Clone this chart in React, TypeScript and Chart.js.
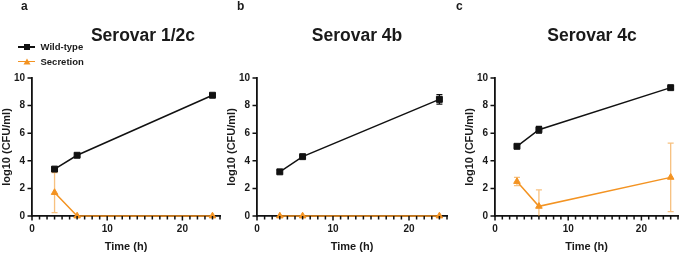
import React, { useEffect, useRef } from 'react';
import { Chart, registerables } from 'chart.js';

Chart.register(...registerables);

// ---------- data ----------
const TIME_H = [3, 6, 24];
const X_LABELED_TICKS = [0, 10, 20];
const X_MIN = 0;
const X_MAX = 25;
const Y_MIN = 0;
const Y_MAX = 10;
const Y_STEP = 2;
const SERIES_NAMES = ['Wild-type', 'Secretion'];
const PANEL_LETTERS = ['a', 'b', 'c'];
const PANEL_TITLES = ['Serovar 1/2c', 'Serovar 4b', 'Serovar 4c'];
const X_TITLE = 'Time (h)';
const Y_TITLE = 'log10 (CFU/ml)';

const WT_12C = [3.4, 4.4, 8.75];
const WT_12C_SD = [0.1, 0.1, 0.1];
const SEC_12C = [1.7, 0, 0];
const SEC_12C_SD = [1.45, 0, 0];

const WT_4B = [3.2, 4.3, 8.45];
const WT_4B_SD = [0.1, 0.1, 0.35];
const SEC_4B = [0, 0, 0];
const SEC_4B_SD = [0, 0, 0];

const WT_4C = [5.05, 6.25, 9.3];
const WT_4C_SD = [0.1, 0.25, 0.1];
const SEC_4C = [2.5, 0.7, 2.8];
const SEC_4C_SD = [0.3, 1.2, 2.48];

// ---------- styles ----------
const FONT = '"Liberation Sans", Arial, Helvetica, sans-serif';
const TEXT = '#1a1a1a';
const BLACK = '#111111';
const ORANGE = '#F39322';
const ORANGE_ERR = 'rgba(243,160,60,0.65)';

const PANELS = [
  { wt: WT_12C, wtSd: WT_12C_SD, sec: SEC_12C, secSd: SEC_12C_SD,
    canvasLeft: 0, width: 230, chartLeft: 32, chartRight: 220,
    titleCenter: 143, letterLeft: 21 },
  { wt: WT_4B, wtSd: WT_4B_SD, sec: SEC_4B, secSd: SEC_4B_SD,
    canvasLeft: 220, width: 240, chartLeft: 37, chartRight: 227,
    titleCenter: 357, letterLeft: 237 },
  { wt: WT_4C, wtSd: WT_4C_SD, sec: SEC_4C, secSd: SEC_4C_SD,
    canvasLeft: 450, width: 235, chartLeft: 45, chartRight: 232,
    titleCenter: 592, letterLeft: 456 },
];

const HEIGHT = 254;
const CHART_TOP = 78;
const X_AXIS_H = 38;
const Y_TITLE_LH = 13.2;
const TICK_MAJOR = 4.5;
const TICK_MINOR = 3.5;

const errorBarPlugin = {
  id: 'errorBars',
  beforeDatasetsDraw(chart: any) {
    const { ctx, chartArea, scales } = chart;
    const xs = scales.x;
    const ys = scales.y;
    ctx.save();
    ctx.beginPath();
    ctx.rect(chartArea.left, chartArea.top - 10, chartArea.right - chartArea.left, chartArea.bottom - chartArea.top + 10);
    ctx.clip();
    chart.data.datasets.forEach((ds: any) => {
      const errs = ds.errors;
      if (!errs) return;
      ds.data.forEach((p: any, i: number) => {
        const e = errs[i];
        if (!e) return;
        const px = xs.getPixelForValue(p.x);
        const hi = ys.getPixelForValue(p.y + e);
        const lo = ys.getPixelForValue(p.y - e);
        ctx.strokeStyle = ds.errorColor;
        ctx.lineWidth = 1.3;
        ctx.beginPath();
        ctx.moveTo(px, hi);
        ctx.lineTo(px, lo);
        ctx.moveTo(px - 3, hi);
        ctx.lineTo(px + 3, hi);
        ctx.moveTo(px - 3, lo);
        ctx.lineTo(px + 3, lo);
        ctx.stroke();
      });
    });
    ctx.restore();
  },
};

const tickMarkPlugin = {
  id: 'tickMarks',
  afterDraw(chart: any) {
    const { ctx, chartArea, scales } = chart;
    const xs = scales.x;
    const ys = scales.y;
    ctx.save();
    ctx.strokeStyle = BLACK;
    ctx.lineWidth = 1.5;
    ctx.beginPath();
    xs.ticks.forEach((t: any) => {
      const px = xs.getPixelForValue(t.value);
      const len = X_LABELED_TICKS.includes(t.value) ? TICK_MAJOR : TICK_MINOR;
      ctx.moveTo(px, chartArea.bottom);
      ctx.lineTo(px, chartArea.bottom + len);
    });
    ys.ticks.forEach((t: any) => {
      const py = ys.getPixelForValue(t.value);
      ctx.moveTo(chartArea.left, py);
      ctx.lineTo(chartArea.left - TICK_MAJOR, py);
    });
    ctx.stroke();
    ctx.restore();
  },
};

function ChartPanel({ cfg }: { cfg: any }) {
  const ref = useRef<HTMLCanvasElement>(null);
  useEffect(() => {
    const chart = new Chart(ref.current as HTMLCanvasElement, {
      type: 'line',
      data: {
        datasets: [
          {
            label: SERIES_NAMES[0],
            data: TIME_H.map((t, i) => ({ x: t, y: cfg.wt[i] })),
            errors: cfg.wtSd,
            errorColor: BLACK,
            borderColor: BLACK,
            backgroundColor: BLACK,
            pointBackgroundColor: BLACK,
            pointBorderColor: BLACK,
            pointStyle: 'rect',
            pointRadius: 4.2,
            pointBorderWidth: 1,
            borderWidth: 1.5,
            clip: false,
          } as any,
          {
            label: SERIES_NAMES[1],
            data: TIME_H.map((t, i) => ({ x: t, y: cfg.sec[i] })),
            errors: cfg.secSd,
            errorColor: ORANGE_ERR,
            borderColor: ORANGE,
            backgroundColor: ORANGE,
            pointBackgroundColor: ORANGE,
            pointBorderColor: ORANGE,
            pointStyle: 'triangle',
            pointRadius: 3.8,
            pointBorderWidth: 1,
            borderWidth: 1.5,
            clip: false,
          } as any,
        ],
      },
      options: {
        animation: false,
        responsive: false,
        devicePixelRatio: 1,
        layout: {
          padding: { left: 0, right: cfg.width - cfg.chartRight, top: CHART_TOP, bottom: 0 },
        },
        plugins: {
          legend: { display: false },
          title: { display: false },
          tooltip: { enabled: false },
        },
        scales: {
          x: {
            type: 'linear',
            min: X_MIN,
            max: X_MAX,
            afterFit: (s: any) => { s.height = X_AXIS_H; },
            border: { display: true, color: BLACK, width: 1.8 },
            grid: { display: false, drawOnChartArea: false, drawTicks: false },
            ticks: {
              stepSize: 1,
              autoSkip: false,
              maxRotation: 0,
              padding: 7,
              color: TEXT,
              font: { family: FONT, size: 10, weight: 'bold' },
              callback: (v: any) => (X_LABELED_TICKS.includes(Number(v)) ? String(v) : ''),
            },
            title: {
              display: true,
              text: X_TITLE,
              color: TEXT,
              font: { family: FONT, size: 11, weight: 'bold' },
              padding: { top: 0, bottom: 0 },
            },
          },
          y: {
            type: 'linear',
            min: Y_MIN,
            max: Y_MAX,
            afterFit: (s: any) => { s.width = cfg.chartLeft; },
            border: { display: true, color: BLACK, width: 1.8 },
            grid: { display: false, drawOnChartArea: false, drawTicks: false },
            ticks: {
              stepSize: Y_STEP,
              padding: 7,
              color: TEXT,
              font: { family: FONT, size: 10, weight: 'bold' },
            },
            title: {
              display: true,
              text: Y_TITLE,
              color: TEXT,
              font: { family: FONT, size: 11, weight: 'bold' },
              padding: { top: Math.max(0, cfg.chartLeft - 25 - Y_TITLE_LH / 2), bottom: 0 },
            },
          },
        },
      } as any,
      plugins: [tickMarkPlugin, errorBarPlugin],
    });
    return () => chart.destroy();
  }, [cfg]);
  return (
    <canvas
      ref={ref}
      width={cfg.width}
      height={HEIGHT}
      style={{ position: 'absolute', left: cfg.canvasLeft, top: 0, width: cfg.width, height: HEIGHT, display: 'block' }}
    />
  );
}

function Legend() {
  const colors = [BLACK, ORANGE];
  return (
    <>
      {SERIES_NAMES.map((name, i) => {
        const cy = 47 + i * 14.5;
        return (
          <React.Fragment key={name}>
            <div style={{ position: 'absolute', left: 18, top: cy - 0.75, width: 17, height: 1.5, background: colors[i] }} />
            <svg style={{ position: 'absolute', left: 22.5, top: cy - 4 }} width={8} height={8}>
              {i === 0 ? (
                <rect x={1} y={1} width={6} height={6} fill={colors[i]} />
              ) : (
                <polygon points="4,0.5 7.5,6.5 0.5,6.5" fill={colors[i]} />
              )}
            </svg>
            <div
              style={{
                position: 'absolute', left: 40.5, top: cy, transform: 'translateY(-50%)',
                fontFamily: FONT, fontWeight: 'bold', fontSize: 9.5, lineHeight: 1, color: TEXT, whiteSpace: 'nowrap',
              }}
            >
              {name}
            </div>
          </React.Fragment>
        );
      })}
    </>
  );
}

export default function App() {
  return (
    <div style={{ position: 'fixed', left: 0, top: 0, width: 685, height: HEIGHT, background: '#fff', overflow: 'hidden' }}>
      {PANELS.map((p, i) => (
        <ChartPanel key={i} cfg={p} />
      ))}
      {PANELS.map((p, i) => (
        <div
          key={'l' + i}
          style={{ position: 'absolute', left: p.letterLeft, top: 0, fontFamily: FONT, fontWeight: 'bold', fontSize: 12, lineHeight: 1, color: TEXT }}
        >
          {PANEL_LETTERS[i]}
        </div>
      ))}
      {PANELS.map((p, i) => (
        <div
          key={'t' + i}
          style={{
            position: 'absolute', left: p.titleCenter, top: 27, transform: 'translateX(-50%)',
            fontFamily: FONT, fontWeight: 'bold', fontSize: 17.5, lineHeight: 1, color: TEXT, whiteSpace: 'nowrap',
          }}
        >
          {PANEL_TITLES[i]}
        </div>
      ))}
      <Legend />
    </div>
  );
}
